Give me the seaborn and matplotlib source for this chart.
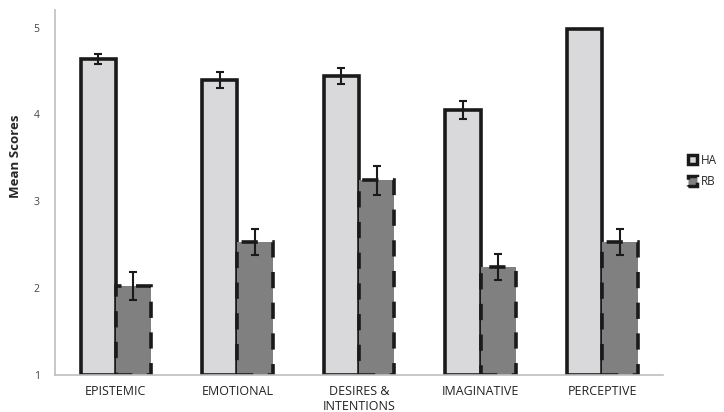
import numpy as np
import pandas as pd
import matplotlib
matplotlib.use("Agg")
import matplotlib.pyplot as plt
from matplotlib.patches import Patch
import seaborn as sns

categories = ["EPISTEMIC", "EMOTIONAL", "DESIRES &\nINTENTIONS", "IMAGINATIVE", "PERCEPTIVE"]
ha_means = [4.64, 4.40, 4.44, 4.05, 4.99]
ha_err = [0.06, 0.09, 0.09, 0.10, 0.0]
rb_means = [2.02, 2.53, 3.24, 2.24, 2.53]
rb_err = [0.16, 0.15, 0.17, 0.15, 0.15]
groups = ["HA", "RB"]

df = pd.DataFrame({
    "category": categories * 2,
    "group": ["HA"] * 5 + ["RB"] * 5,
    "score": ha_means + rb_means,
})

sns.set_style("white")
plt.rcParams["font.family"] = ["Open Sans", "DejaVu Sans"]

fig = plt.figure(figsize=(7.24, 4.12), dpi=100)
ax = fig.add_axes([0.076, 0.09, 0.84, 0.885])

colors = {"HA": "#d9d9db", "RB": "#808080"}
sns.barplot(data=df, x="category", y="score", hue="group", palette=colors,
            errorbar=None, width=0.58, ax=ax, legend=False)

bar_sets = list(ax.containers)
errs = [ha_err, rb_err]
for cont, err, style in zip(bar_sets, errs, ["-", (0, (4.5, 4))]):
    for bar, e in zip(cont, err):
        h = bar.get_height()
        # bars start at the baseline 1
        bar.set_y(1)
        bar.set_height(h - 1)
        bar.set_edgecolor("#1a1a1a")
        bar.set_linewidth(2.6)
        bar.set_linestyle(style)
        x = bar.get_x() + bar.get_width() / 2
        ax.errorbar(x, h, yerr=e, fmt="none", ecolor="#1a1a1a", elinewidth=1.5,
                    capsize=3, capthick=1.5)

ax.set_ylim(1, 5.2)
ax.set_xlim(-0.5, 4.5)
ax.set_yticks([1, 2, 3, 4, 5])
ax.tick_params(axis="y", labelsize=7.5, colors="#444444", length=0, pad=11)
ax.tick_params(axis="x", labelsize=9, colors="#222222", length=0, pad=7)
ax.set_xlabel("")
ax.set_ylabel("Mean Scores", fontsize=9.5, fontweight="bold")
ax.yaxis.set_label_coords(-0.055, 0.6)
for s in ["top", "right"]:
    ax.spines[s].set_visible(False)
for s in ["left", "bottom"]:
    ax.spines[s].set_color("#bfbfbf")
    ax.spines[s].set_linewidth(1.2)

handles = [Patch(facecolor=colors["HA"], edgecolor="#1a1a1a", linewidth=2.5, label="HA"),
           Patch(facecolor=colors["RB"], edgecolor="#1a1a1a", linewidth=2.5,
                 linestyle="--", label="RB")]
fig.legend(handles=handles, loc="center left", bbox_to_anchor=(0.935, 0.585),
           frameon=False, fontsize=8.5, handlelength=0.8, handleheight=0.8,
           handletextpad=0.3, labelspacing=0.7)

fig.savefig("out.png", dpi=100)
